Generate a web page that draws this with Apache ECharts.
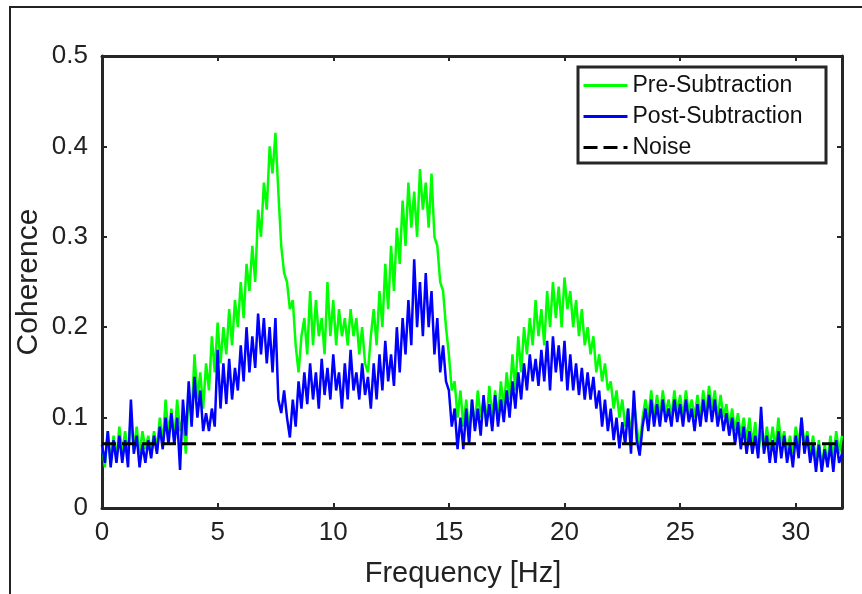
<!DOCTYPE html>
<html>
<head>
<meta charset="utf-8">
<script src="https://cdn.jsdelivr.net/npm/echarts@6/dist/echarts.min.js"></script>
<style>
html,body{margin:0;padding:0;background:#fff;}
#chart{width:862px;height:594px;}
</style>
</head>
<body>
<div id="chart"></div>
<script>
// Frequency step between samples (Hz)
const freqStep = 0.125;
const xTicks = [0, 5, 10, 15, 20, 25, 30];
const yTicks = [0, 0.1, 0.2, 0.3, 0.4, 0.5];
const seriesNames = ['Pre-Subtraction', 'Post-Subtraction', 'Noise'];

// Pre-Subtraction coherence, one row per Hz (8 samples each)
const preSub = [
  0.07,0.045,0.085,0.05,0.08,0.055,0.09,0.06,
  0.085,0.06,0.1,0.065,0.09,0.06,0.085,0.065,
  0.08,0.06,0.085,0.065,0.1,0.07,0.12,0.08,
  0.11,0.075,0.12,0.085,0.1,0.06,0.13,0.1,
  0.17,0.12,0.15,0.11,0.16,0.13,0.19,0.15,
  0.205,0.16,0.2,0.17,0.22,0.18,0.23,0.2,
  0.25,0.21,0.27,0.24,0.29,0.25,0.33,0.3,
  0.36,0.33,0.4,0.37,0.415,0.35,0.29,0.26,
  0.25,0.22,0.23,0.18,0.15,0.19,0.21,0.17,
  0.24,0.18,0.23,0.19,0.21,0.17,0.25,0.19,
  0.23,0.18,0.22,0.19,0.21,0.18,0.22,0.19,
  0.21,0.17,0.2,0.16,0.15,0.19,0.22,0.18,
  0.24,0.2,0.27,0.22,0.29,0.24,0.31,0.27,
  0.34,0.29,0.36,0.31,0.35,0.3,0.375,0.33,
  0.36,0.31,0.37,0.3,0.29,0.25,0.24,0.2,
  0.17,0.13,0.14,0.1,0.13,0.09,0.12,0.085,
  0.12,0.09,0.13,0.1,0.12,0.095,0.135,0.1,
  0.13,0.1,0.14,0.11,0.15,0.12,0.17,0.13,
  0.19,0.15,0.2,0.17,0.21,0.18,0.23,0.19,
  0.22,0.18,0.24,0.2,0.25,0.21,0.245,0.2,
  0.255,0.22,0.24,0.2,0.23,0.19,0.22,0.18,
  0.2,0.17,0.19,0.15,0.17,0.14,0.16,0.13,
  0.14,0.11,0.13,0.1,0.12,0.09,0.11,0.08,
  0.12,0.09,0.065,0.1,0.12,0.1,0.13,0.1,
  0.125,0.1,0.13,0.105,0.12,0.1,0.13,0.105,
  0.125,0.1,0.13,0.105,0.12,0.1,0.125,0.1,
  0.13,0.105,0.135,0.11,0.13,0.1,0.125,0.1,
  0.115,0.09,0.11,0.085,0.105,0.08,0.1,0.075,
  0.1,0.07,0.095,0.06,0.085,0.065,0.09,0.065,
  0.09,0.065,0.1,0.07,0.085,0.06,0.08,0.06,
  0.09,0.07,0.1,0.07,0.085,0.06,0.08,0.05,
  0.075,0.045,0.07,0.05,0.08,0.055,0.085,0.06,
  0.08
];

// Post-Subtraction coherence
const postSub = [
  0.07,0.05,0.085,0.045,0.075,0.05,0.08,0.05,
  0.075,0.045,0.12,0.06,0.08,0.045,0.07,0.05,
  0.075,0.055,0.08,0.06,0.09,0.065,0.1,0.07,
  0.105,0.07,0.1,0.042,0.12,0.08,0.14,0.09,
  0.145,0.1,0.13,0.085,0.105,0.085,0.11,0.09,
  0.175,0.11,0.16,0.115,0.165,0.12,0.155,0.13,
  0.18,0.14,0.2,0.15,0.19,0.155,0.215,0.17,
  0.21,0.16,0.2,0.15,0.21,0.12,0.105,0.13,
  0.1,0.078,0.12,0.09,0.14,0.11,0.15,0.115,
  0.16,0.12,0.15,0.11,0.165,0.125,0.155,0.12,
  0.17,0.13,0.15,0.11,0.16,0.12,0.175,0.13,
  0.15,0.12,0.16,0.125,0.145,0.11,0.16,0.12,
  0.17,0.13,0.185,0.14,0.17,0.135,0.2,0.15,
  0.21,0.17,0.23,0.18,0.275,0.2,0.25,0.19,
  0.26,0.2,0.24,0.17,0.21,0.15,0.18,0.14,
  0.13,0.09,0.11,0.065,0.1,0.065,0.11,0.07,
  0.12,0.085,0.11,0.08,0.125,0.09,0.115,0.085,
  0.125,0.09,0.12,0.095,0.13,0.1,0.14,0.11,
  0.15,0.12,0.16,0.13,0.17,0.14,0.165,0.135,
  0.175,0.14,0.185,0.13,0.19,0.15,0.18,0.14,
  0.185,0.13,0.17,0.13,0.16,0.125,0.155,0.12,
  0.15,0.12,0.145,0.11,0.13,0.09,0.12,0.085,
  0.11,0.075,0.1,0.066,0.095,0.07,0.11,0.06,
  0.13,0.075,0.058,0.09,0.11,0.085,0.12,0.09,
  0.115,0.09,0.12,0.095,0.11,0.09,0.12,0.095,
  0.115,0.09,0.12,0.095,0.11,0.085,0.115,0.09,
  0.12,0.095,0.125,0.095,0.12,0.09,0.11,0.085,
  0.105,0.08,0.1,0.07,0.095,0.065,0.09,0.06,
  0.085,0.06,0.08,0.055,0.112,0.06,0.08,0.05,
  0.075,0.05,0.085,0.055,0.08,0.05,0.07,0.045,
  0.08,0.055,0.1,0.06,0.08,0.05,0.07,0.04,
  0.07,0.04,0.065,0.045,0.07,0.04,0.075,0.05,
  0.06
];

// Noise level (constant)
const noiseFreq = [0, 32];
const noiseLevel = [0.071, 0.071];

const toPairs = arr => arr.map((v, i) => [i * freqStep, v]);

const chart = echarts.init(document.getElementById('chart'), null, {renderer: 'canvas'});
const axisColor = '#262626';
const font = 'Liberation Sans, Arial, Helvetica, sans-serif';

const option = {
  backgroundColor: '#fff',
  animation: false,
  grid: {left: 102, right: 20, top: 56, bottom: 86, containLabel: false},
  xAxis: [{
    type: 'value', min: 0, max: 32, interval: 5,
    name: 'Frequency [Hz]', nameLocation: 'middle', nameGap: 51,
    nameTextStyle: {fontSize: 29, color: '#222', fontFamily: font, padding: [0, 18, 0, 0]},
    axisLine: {show: true, onZero: false, lineStyle: {color: axisColor, width: 3}},
    axisTick: {show: true, inside: true, length: 5, lineStyle: {color: axisColor, width: 2}},
    axisLabel: {fontSize: 26, color: '#222', fontFamily: font, margin: 12,
      formatter: v => (xTicks.indexOf(v) >= 0 ? String(v) : '')},
    splitLine: {show: false}
  }, {
    type: 'value', min: 0, max: 32, interval: 5, position: 'top',
    axisLine: {show: true, onZero: false, lineStyle: {color: axisColor, width: 3}},
    axisTick: {show: true, inside: true, length: 5, lineStyle: {color: axisColor, width: 2}},
    axisLabel: {show: false}, splitLine: {show: false}
  }],
  yAxis: [{
    type: 'value', min: 0, max: 0.5, interval: 0.1,
    name: 'Coherence', nameLocation: 'middle', nameGap: 58, nameMoveOverlap: false,
    nameTextStyle: {fontSize: 30, color: '#222', fontFamily: font},
    axisLine: {show: true, onZero: false, lineStyle: {color: axisColor, width: 3}},
    axisTick: {show: true, inside: true, length: 5, lineStyle: {color: axisColor, width: 2}},
    axisLabel: {fontSize: 26, color: '#222', fontFamily: font, margin: 14,
      formatter: v => { const t = yTicks.find(y => Math.abs(y - v) < 1e-9); return t === undefined ? '' : String(t); }},
    splitLine: {show: false}
  }, {
    type: 'value', min: 0, max: 0.5, interval: 0.1, position: 'right',
    axisLine: {show: true, onZero: false, lineStyle: {color: axisColor, width: 3}},
    axisTick: {show: true, inside: true, length: 5, lineStyle: {color: axisColor, width: 2}},
    axisLabel: {show: false}, splitLine: {show: false}
  }],
  legend: {
    orient: 'vertical', left: 582, top: 74,
    itemWidth: 44, itemHeight: 14, itemGap: 8,
    padding: 0,
    itemStyle: {opacity: 0},
    lineStyle: {width: 3},
    textStyle: {fontSize: 23, color: '#111', fontFamily: font},
    data: seriesNames
  },
  graphic: [
    {type: 'polyline', silent: true, z: 100,
     shape: {points: [[10, 594], [10, 7], [862, 7]]},
     style: {stroke: '#222', lineWidth: 2, fill: null}},
    {type: 'rect', silent: true, z: 100,
     shape: {x: 578, y: 67, width: 248, height: 96},
     style: {stroke: '#262626', lineWidth: 3, fill: null}}
  ],
  series: [
    {name: seriesNames[0], type: 'line', data: toPairs(preSub), showSymbol: false, symbol: 'none',
     lineStyle: {color: '#00ff00', width: 2.5}, itemStyle: {color: '#00ff00'}, z: 2},
    {name: seriesNames[1], type: 'line', data: toPairs(postSub), showSymbol: false, symbol: 'none',
     lineStyle: {color: '#0000ff', width: 2.5}, itemStyle: {color: '#0000ff'}, z: 3},
    {name: seriesNames[2], type: 'line', data: noiseFreq.map((f, i) => [f, noiseLevel[i]]), showSymbol: false, symbol: 'none',
     lineStyle: {color: '#000', width: 3, type: [14, 6]}, itemStyle: {color: '#000'}, z: 4}
  ]
};
chart.setOption(option);
</script>
</body>
</html>
